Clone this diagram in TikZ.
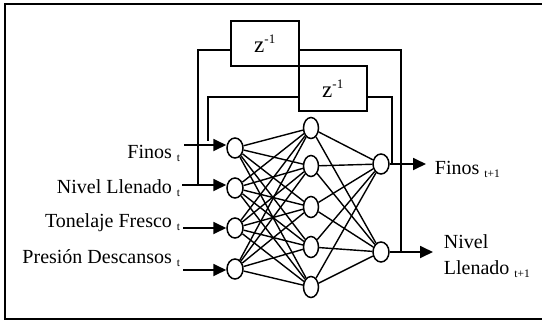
\documentclass[tikz,border=0pt]{standalone}
\usepackage{fontspec}
\setmainfont{Liberation Serif}
\usetikzlibrary{arrows.meta,shapes.geometric}
\newcommand{\sbt}[1]{\raisebox{-3pt}{\fontsize{11.5}{13}\selectfont #1}}
\begin{document}
\begin{tikzpicture}[x=1pt,y=-1pt,line width=1.8pt,
  neuron/.style={draw,ellipse,minimum width=16pt,minimum height=20pt,inner sep=0pt,line width=1.5pt,fill=white},
  hid/.style={neuron,minimum width=15pt,minimum height=21pt},
  delay/.style={draw,minimum width=68pt,minimum height=45pt,inner sep=0pt,line width=1.8pt,
    font=\fontsize{23}{25}\selectfont},
  arr/.style={-{Triangle[length=13pt,width=12pt]}},
  conn/.style={line width=1.4pt},
  lbl/.style={inner sep=0pt,font=\fontsize{20}{22}\selectfont}]
\useasboundingbox (0,0) rectangle (542,322);
\draw[line width=2pt] (5,4) rectangle (552,319);

% neurons
\node[neuron] (i1) at (235,148) {};
\node[neuron] (i2) at (235,188) {};
\node[neuron] (i3) at (235,228) {};
\node[neuron] (i4) at (235,269) {};
\node[hid] (h1) at (311,128) {};
\node[hid] (h2) at (311,166) {};
\node[hid] (h3) at (311,207) {};
\node[hid] (h4) at (311,247) {};
\node[hid] (h5) at (311,287) {};
\node[neuron] (o1) at (381,164) {};
\node[neuron] (o2) at (381,252) {};

\foreach \a in {1,...,4}{\foreach \b in {1,...,5}{\draw[conn] (i\a) -- (h\b);}}
\foreach \b in {1,...,5}{\foreach \c in {1,2}{\draw[conn] (h\b) -- (o\c);}}

% delay boxes
\node[delay] (d1) at (265,43.5) {z\textsuperscript{\fontsize{13}{15}\selectfont -1}};
\node[delay] (d2) at (333,88.5) {z\textsuperscript{\fontsize{13}{15}\selectfont -1}};

% inputs
\coordinate (s1) at (184,145);
\coordinate (s2) at (182,185);
\coordinate (s3) at (183,228);
\coordinate (s4) at (183,270);
\draw[arr] (s1) -- (s1 -| i1.west);
\draw[arr] (s2) -- (s2 -| i2.west);
\draw[arr] (s3) -- (s3 -| i3.west);
\draw[arr] (s4) -- (s4 -| i4.west);

\node[lbl,anchor=base east] (l1) at (181,158) {Finos \sbt{t}};
\node[lbl,anchor=base east] (l2) at (181,193) {Nivel Llenado \sbt{t}};
\node[lbl,anchor=base east] (l3) at (181,227) {Tonelaje Fresco \sbt{t}};
\node[lbl,anchor=base east] (l4) at (181,263) {Presión Descansos \sbt{t}};

% outputs
\coordinate (of1) at (426,164);
\coordinate (of2) at (433,252);
\draw[arr] (o1.east) -- (of1);
\draw[arr] (o2.east) -- (of2);
\node[lbl,anchor=base west] (r1) at (434,174) {Finos \sbt{t+1}};
\node[lbl,anchor=base west] (r2) at (443,248) {Nivel};
\node[lbl,anchor=base west] (r3) at (443,274) {Llenado \sbt{t+1}};

% feedback loop 1
\coordinate (j1) at (401,252);
\coordinate (y1) at (0,50);
\coordinate (k1) at (198,185);
\draw (j1) -- (j1 |- y1) -- (d1.east |- y1);
\draw (d1.west |- y1) -- (k1 |- y1) -- (k1);

% feedback loop 2
\coordinate (j2) at (392,164);
\coordinate (y2) at (0,97);
\coordinate (k2) at (208,141);
\draw (j2) -- (j2 |- y2) -- (d2.east |- y2);
\draw (d2.west |- y2) -- (k2 |- y2) -- (k2);
\end{tikzpicture}
\end{document}
